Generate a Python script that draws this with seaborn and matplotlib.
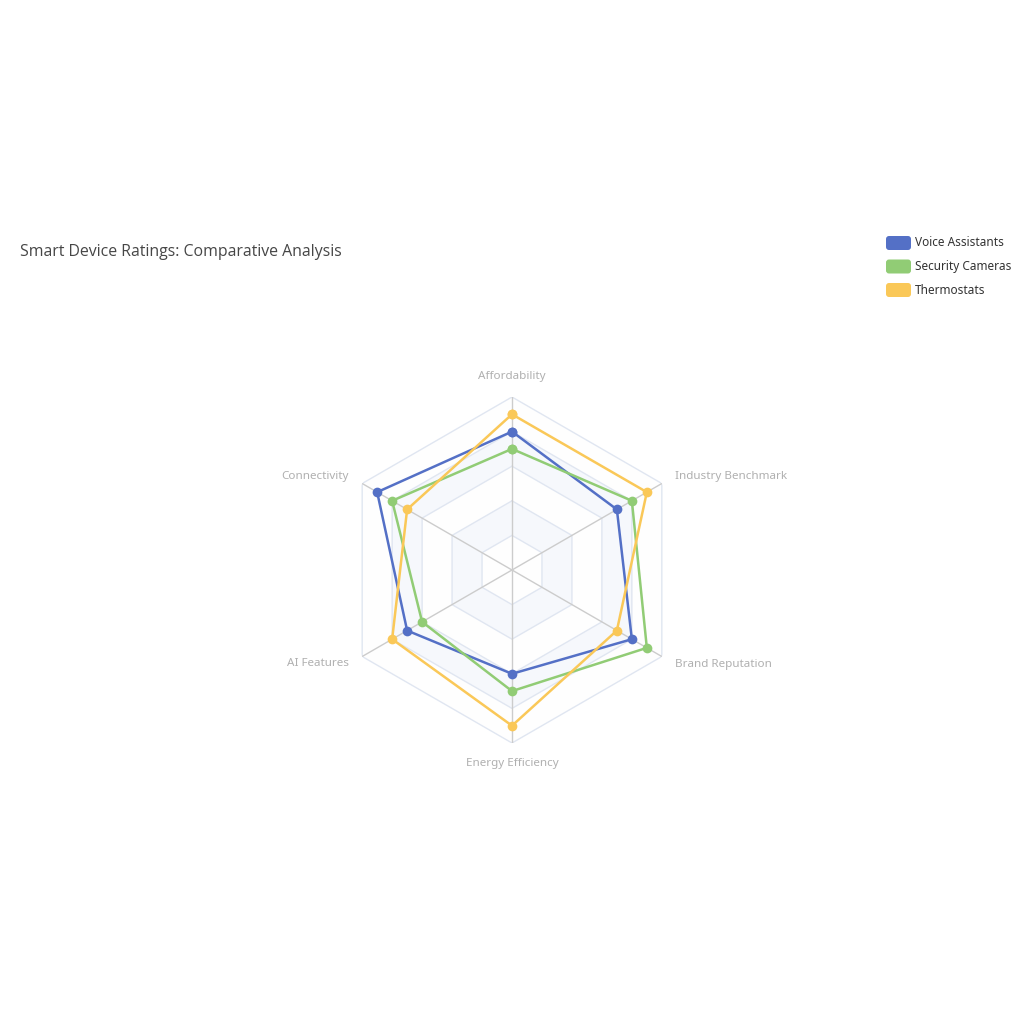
import numpy as np
import pandas as pd
import matplotlib
matplotlib.use("Agg")
import matplotlib.pyplot as plt
from matplotlib.patches import FancyBboxPatch
import seaborn as sns

# ---- data ----
indicators = ["Affordability", "Connectivity", "AI Features",
              "Energy Efficiency", "Brand Reputation", "Industry Benchmark"]
series_names = ["Voice Assistants", "Security Cameras", "Thermostats"]
voice_assistants = [80, 90, 70, 60, 80, 70]
security_cameras = [70, 80, 60, 70, 90, 80]
thermostats = [90, 70, 80, 90, 70, 90]
max_value = 100
colors = ["#5470c6", "#91cc75", "#fac858"]
title = "Smart Device Ratings: Comparative Analysis"

sns.set_theme(style="white")
plt.rcParams["font.family"] = ["Noto Sans", "DejaVu Sans"]

W = H = 1024
fig = plt.figure(figsize=(W / 100, H / 100), dpi=100)
fig.patch.set_facecolor("white")

cx, cy, R = 512, 570, 173
ax = fig.add_axes([(cx - R) / W, (H - cy - R) / H, 2 * R / W, 2 * R / H],
                  projection="polar")
ax.set_theta_offset(np.pi / 2)
ax.set_theta_direction(1)
ax.set_ylim(0, max_value)
ax.grid(False)
ax.spines["polar"].set_visible(False)
ax.set_xticks([])
ax.set_yticks([])
ax.patch.set_alpha(0)

n = len(indicators)
theta = np.arange(n) * 2 * np.pi / n
theta_c = np.append(theta, theta[0])

# split areas (outer to inner, opaque layering)
levels = 5
area_cols = ["#fefefe", "#f6f8fc", "#fefefe", "#f6f8fc", "#fefefe"]
for k in range(levels, 0, -1):
    r = max_value * k / levels
    ax.fill(theta_c, [r] * (n + 1), color=area_cols[k - 1], lw=0, zorder=1)
for k in range(1, levels + 1):
    r = max_value * k / levels
    ax.plot(theta_c, [r] * (n + 1), color="#e0e6f1", lw=1.0, zorder=2)
for t in theta:
    ax.plot([t, t], [0, max_value], color="#cccccc", lw=1.0, zorder=2)

# data lines
rows = []
for name, vals in zip(series_names, [voice_assistants, security_cameras, thermostats]):
    vv = list(vals) + [vals[0]]
    for i, (t, v) in enumerate(zip(theta_c, vv)):
        rows.append({"series": name, "theta": t, "value": v, "order": i})
df = pd.DataFrame(rows)
sns.lineplot(data=df, x="theta", y="value", hue="series", hue_order=series_names,
             palette=colors, sort=False, estimator=None, units="series",
             lw=1.8, marker="o", markersize=7, markeredgewidth=0,
             legend=False, ax=ax, zorder=5)
ax.set_xlabel("")
ax.set_ylabel("")
ax.set_ylim(0, max_value)

# indicator labels
lab_r = max_value * 188 / R
for t, name in zip(theta, indicators):
    ang = (np.degrees(t) + 90) % 360
    x = np.cos(np.radians(ang))
    y = np.sin(np.radians(ang))
    if abs(x) < 1e-6:
        ha = "center"
    elif x > 0:
        ha = "left"
    else:
        ha = "right"
    if abs(x) < 1e-6:
        va = "bottom" if y > 0 else "top"
    else:
        va = "center"
    ax.text(t, lab_r, name, ha=ha, va=va, fontsize=8.4, color="#b0b0b0",
            clip_on=False)

# overlay for title & legend
ov = fig.add_axes([0, 0, 1, 1])
ov.set_xlim(0, W)
ov.set_ylim(H, 0)
ov.axis("off")
ov.patch.set_alpha(0)
ov.text(20, 252, title, ha="left", va="center", fontsize=11.4, color="#464646",
        family=["Open Sans", "DejaVu Sans"])

for i, (name, c) in enumerate(zip(series_names, colors)):
    y0 = 236 + i * 23.5
    ov.add_patch(FancyBboxPatch((886, y0), 25, 14,
                                boxstyle="round,pad=0,rounding_size=3",
                                fc=c, ec="none"))
    ov.text(915, y0 + 7, name, ha="left", va="center", fontsize=8.5,
            color="#333333")

fig.savefig("out.png", dpi=100, facecolor="white")
